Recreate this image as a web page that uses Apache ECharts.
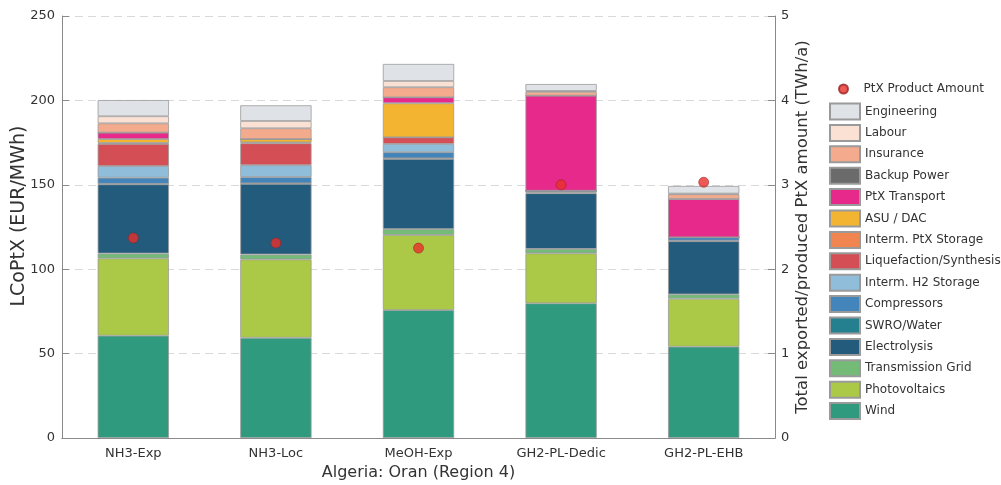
<!DOCTYPE html>
<html><head><meta charset="utf-8">
<script src="https://cdn.jsdelivr.net/npm/echarts@6/dist/echarts.min.js"></script>
<style>html,body{margin:0;padding:0;background:#fff}#c{width:1001px;height:485px}</style>
</head><body><div id="c"></div>
<script>
const categories = ['NH3-Exp','NH3-Loc','MeOH-Exp','GH2-PL-Dedic','GH2-PL-EHB'];
const wind             = [60.6, 59.4, 75.8, 79.8, 54.1];
const photovoltaics    = [45.8, 46.4, 44.5, 29.6, 28.4];
const transmissionGrid = [2.9, 2.9, 3.5, 2.6, 2.6];
const electrolysis     = [41.0, 41.9, 41.5, 33.0, 31.5];
const swroWater        = [0.3, 0.3, 0.4, 0.5, 0.3];
const compressors      = [3.6, 3.7, 3.6, 1.0, 2.0];
const intermH2Storage  = [6.9, 7.0, 4.9, 0, 0];
const liquefaction     = [13.1, 13.0, 3.9, 0, 0];
const intermPtXStorage = [0.6, 0.5, 0, 0, 0];
const asuDac           = [2.3, 2.0, 20.2, 0, 0];
const ptxTransport     = [3.8, 0, 3.5, 56.3, 22.7];
const backupPower      = [0, 0, 0, 0, 0];
const insurance        = [5.5, 6.4, 6.0, 2.3, 2.8];
const labour           = [4.2, 4.3, 3.7, 0.5, 0.4];
const engineering      = [9.6, 9.3, 10.1, 4.1, 4.5];
const ptxProductAmount = [2.37, 2.31, 2.25, 3.0, 3.03];
const leftTicks = [0, 50, 100, 150, 200, 250];
const rightTicks = [0, 1, 2, 3, 4, 5];

const stackDefs = [
  ['Wind', wind, '#2f9a7e'],
  ['Photovoltaics', photovoltaics, '#abc946'],
  ['Transmission Grid', transmissionGrid, '#74bb78'],
  ['Electrolysis', electrolysis, '#235b7c'],
  ['SWRO/Water', swroWater, '#24808f'],
  ['Compressors', compressors, '#4385ba'],
  ['Interm. H2 Storage', intermH2Storage, '#8fbdda'],
  ['Liquefaction/Synthesis', liquefaction, '#d44e55'],
  ['Interm. PtX Storage', intermPtXStorage, '#f08550'],
  ['ASU / DAC', asuDac, '#f2b431'],
  ['PtX Transport', ptxTransport, '#e8298c'],
  ['Backup Power', backupPower, '#6b6b6b'],
  ['Insurance', insurance, '#f4aa8c'],
  ['Labour', labour, '#fbe0d4'],
  ['Engineering', engineering, '#dfe3e7']
];

const FONT = 'DejaVu Sans';
const TXT = '#333';
const AX = '#8a8a8a';

const series = stackDefs.map(([name, data, color]) => ({
  name, type: 'bar', stack: 'total', data, barWidth: '50%',
  itemStyle: { color, borderColor: '#9a9a9a', borderWidth: 0.8 },
  emphasis: { disabled: true }
}));
series.push({
  name: 'PtX Product Amount', type: 'scatter', yAxisIndex: 1, data: ptxProductAmount,
  symbolSize: 10, z: 10,
  itemStyle: { color: '#e8302a', borderColor: '#9a2020', borderWidth: 0.7 }
});

const chart = echarts.init(document.getElementById('c'), null, { renderer: 'canvas' });
chart.setOption({
  animation: false,
  backgroundColor: '#fff',
  textStyle: { fontFamily: FONT },
  grid: { left: 62, right: 226, top: 16, bottom: 47, containLabel: false, outerBoundsMode: 'none' },
  legend: [
    {
      data: [{ name: 'PtX Product Amount', icon: 'circle' }],
      orient: 'vertical', left: 838, top: 81, padding: 0, itemWidth: 30, itemHeight: 9,
      textStyle: { fontFamily: FONT, fontSize: 12, color: TXT, lineHeight: 16 }, selectedMode: false
    },
    {
      data: stackDefs.slice().reverse().map(d => ({ name: d[0], icon: 'rect' })),
      orient: 'vertical', left: 829, top: 102.5, padding: 0, itemWidth: 30, itemHeight: 16, itemGap: 3.4,
      textStyle: { fontFamily: FONT, fontSize: 12, color: TXT, lineHeight: 16 }, selectedMode: false
    }
  ],
  xAxis: [
    {
      type: 'category', data: categories, position: 'bottom',
      axisLine: { lineStyle: { color: AX, width: 1 } },
      axisTick: { inside: true, alignWithLabel: true, length: 6, lineStyle: { color: AX } },
      axisLabel: { fontFamily: FONT, fontSize: 13, color: TXT, margin: 9 },
      name: 'Algeria: Oran (Region 4)', nameLocation: 'middle', nameGap: 27,
      nameTextStyle: { fontFamily: FONT, fontSize: 16, color: TXT }
    },
    {
      type: 'category', data: categories, position: 'top',
      axisLine: { lineStyle: { color: AX, width: 1 } },
      axisTick: { inside: true, alignWithLabel: true, length: 6, lineStyle: { color: AX } },
      axisLabel: { show: false }
    }
  ],
  yAxis: [
    {
      type: 'value', min: leftTicks[0], max: leftTicks[leftTicks.length - 1], interval: 50, position: 'left',
      axisLine: { show: true, lineStyle: { color: AX, width: 1 } },
      axisTick: { show: true, inside: true, length: 7, lineStyle: { color: AX } },
      axisLabel: { fontFamily: FONT, fontSize: 13, color: TXT, margin: 7 },
      splitLine: { show: true, lineStyle: { color: '#d9d9d9', type: [8, 5], width: 1 } },
      name: 'LCoPtX (EUR/MWh)', nameLocation: 'middle', nameGap: 33, nameMoveOverlap: false,
      nameTextStyle: { fontFamily: FONT, fontSize: 19, color: TXT, padding: [0, 0, 0, 22] }
    },
    {
      type: 'value', min: rightTicks[0], max: rightTicks[rightTicks.length - 1], interval: 1, position: 'right',
      axisLine: { show: true, lineStyle: { color: AX, width: 1 } },
      axisTick: { show: true, inside: true, length: 7, lineStyle: { color: AX } },
      axisLabel: { fontFamily: FONT, fontSize: 13, color: TXT, margin: 6 },
      splitLine: { show: false },
      name: 'Total exported/produced PtX amount (TWh/a)', nameLocation: 'middle', nameGap: 19.5, nameMoveOverlap: false,
      nameTextStyle: { fontFamily: FONT, fontSize: 16.5, color: TXT }
    }
  ],
  series
});
</script></body></html>
